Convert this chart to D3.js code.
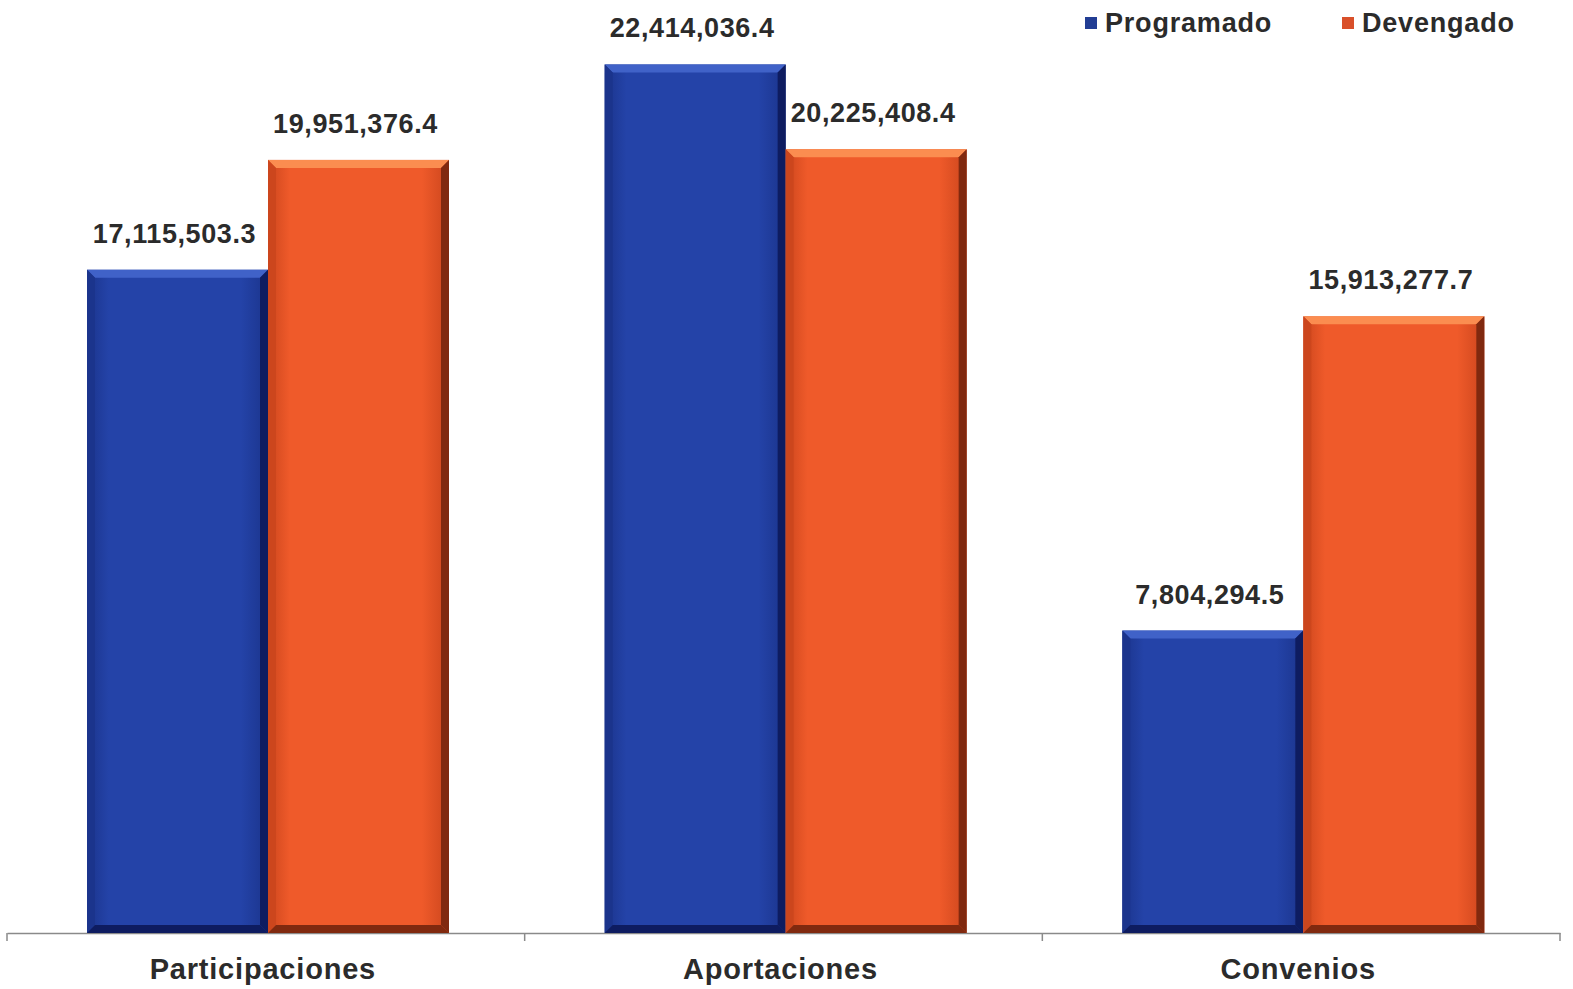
<!DOCTYPE html>
<html>
<head>
<meta charset="utf-8">
<script src="https://cdn.jsdelivr.net/npm/d3@7"></script>
<style>
  body { margin: 0; background: #fff; }
  text { font-family: "Liberation Sans", Arial, sans-serif; font-weight: bold; fill: #2b2b2b; }
</style>
</head>
<body>
<div id="chart"></div>
<script>
// Chart data
var categories = ["Participaciones", "Aportaciones", "Convenios"];
var seriesNames = ["Programado", "Devengado"];
var programado = [17115503.3, 22414036.4, 7804294.5];
var devengado = [19951376.4, 20225408.4, 15913277.7];

var svgWidth = 1573;
var svgHeight = 989;

var margin = { top: 3, right: 13, bottom: 56, left: 7 };
var chartWidth = svgWidth - margin.left - margin.right;
var chartHeight = svgHeight - margin.top - margin.bottom;

var colors = {
  Programado: { base: "#2443a8", light: "#4062c8", dark: "#0e1c60", side: "#1b348c", legend: "#223d94" },
  Devengado: { base: "#ef5a2a", light: "#fb8d50", dark: "#80290f", side: "#cc461d", legend: "#d9502a" }
};

var svg = d3.select("#chart")
  .append("svg")
  .attr("width", svgWidth)
  .attr("height", svgHeight);

var defs = svg.append("defs");
Object.keys(colors).forEach(function(k) {
  var grad = defs.append("linearGradient")
    .attr("id", "face-" + k)
    .attr("x1", "0").attr("x2", "1").attr("y1", "0").attr("y2", "0");
  grad.append("stop").attr("offset", "0%").attr("stop-color", colors[k].side);
  grad.append("stop").attr("offset", "12%").attr("stop-color", colors[k].base);
  grad.append("stop").attr("offset", "85%").attr("stop-color", colors[k].base);
  grad.append("stop").attr("offset", "100%").attr("stop-color", colors[k].side);
});

var chartGroup = svg.append("g")
  .attr("transform", `translate(${margin.left}, ${margin.top})`);

// Build table
var data = categories.map(function(c, i) {
  return { category: c, values: [
    { key: "Programado", value: programado[i] },
    { key: "Devengado", value: devengado[i] }
  ]};
});

// Scales
var x0 = d3.scaleBand()
  .domain(categories)
  .range([0, chartWidth])
  .paddingInner(0)
  .paddingOuter(0);

var x1 = d3.scaleBand()
  .domain(seriesNames)
  .range([80, 80 + 362])
  .padding(0);

var yScale = d3.scaleLinear()
  .domain([0, 24000000])
  .range([chartHeight, 0]);

// Axis
var bottomAxis = d3.axisBottom(x0).tickSize(0).tickFormat("");
var axisG = chartGroup.append("g")
  .attr("transform", `translate(0, ${chartHeight})`)
  .call(bottomAxis);
axisG.select(".domain").attr("stroke", "#8a8a8a").attr("stroke-width", 1.5);

// band boundary ticks
var tickPos = categories.map(function(c) { return x0(c); }).concat([chartWidth]);
chartGroup.selectAll(".bandTick")
  .data(tickPos)
  .enter()
  .append("line")
  .attr("x1", d => d).attr("x2", d => d)
  .attr("y1", chartHeight).attr("y2", chartHeight + 8)
  .attr("stroke", "#8a8a8a")
  .attr("stroke-width", 1.5);

// Category labels
chartGroup.selectAll(".catLabel")
  .data(categories)
  .enter()
  .append("text")
  .attr("x", d => x0(d) + x0.bandwidth() / 2 - 3)
  .attr("y", chartHeight + 46)
  .attr("text-anchor", "middle")
  .attr("font-size", 29)
  .attr("letter-spacing", 0.8)
  .text(d => d);

// Bars with bevel
var bev = 8;
var groups = chartGroup.selectAll(".cat")
  .data(data)
  .enter()
  .append("g")
  .attr("transform", d => `translate(${x0(d.category)}, 0)`);

var bars = groups.selectAll(".bar")
  .data(d => d.values)
  .enter()
  .append("g");

bars.each(function(d) {
  var g = d3.select(this);
  var x = x1(d.key);
  var w = x1.bandwidth();
  var y = yScale(d.value);
  var h = chartHeight - y;
  var c = colors[d.key];

  g.append("rect")
    .attr("x", x).attr("y", y)
    .attr("width", w).attr("height", h)
    .attr("fill", "url(#face-" + d.key + ")");

  // top bevel
  g.append("polygon")
    .attr("points", [[x, y], [x + w, y], [x + w - bev, y + bev], [x + bev, y + bev]].join(" "))
    .attr("fill", c.light);
  // right bevel
  g.append("polygon")
    .attr("points", [[x + w, y], [x + w, y + h], [x + w - bev, y + h - bev], [x + w - bev, y + bev]].join(" "))
    .attr("fill", c.dark);
  // left bevel
  g.append("polygon")
    .attr("points", [[x, y], [x + bev, y + bev], [x + bev, y + h - bev], [x, y + h]].join(" "))
    .attr("fill", c.side);
  // bottom bevel
  g.append("polygon")
    .attr("points", [[x, y + h], [x + bev, y + h - bev], [x + w - bev, y + h - bev], [x + w, y + h]].join(" "))
    .attr("fill", c.dark);

  // value label
  g.append("text")
    .attr("x", x + w / 2 - 3)
    .attr("y", y - 27)
    .attr("text-anchor", "middle")
    .attr("font-size", 27)
    .attr("letter-spacing", 0.6)
    .text(d3.format(",.1f")(d.value));
});

// Legend
var legendX = [1085, 1342];
var legend = svg.selectAll(".legend")
  .data(seriesNames)
  .enter()
  .append("g")
  .attr("transform", (d, i) => `translate(${legendX[i]}, 0)`);

legend.append("rect")
  .attr("x", 0).attr("y", 17)
  .attr("width", 12).attr("height", 12)
  .attr("fill", d => colors[d].legend);

legend.append("text")
  .attr("x", 20)
  .attr("y", 32)
  .attr("font-size", 27)
  .attr("letter-spacing", 0.8)
  .text(d => d);
</script>
</body>
</html>
